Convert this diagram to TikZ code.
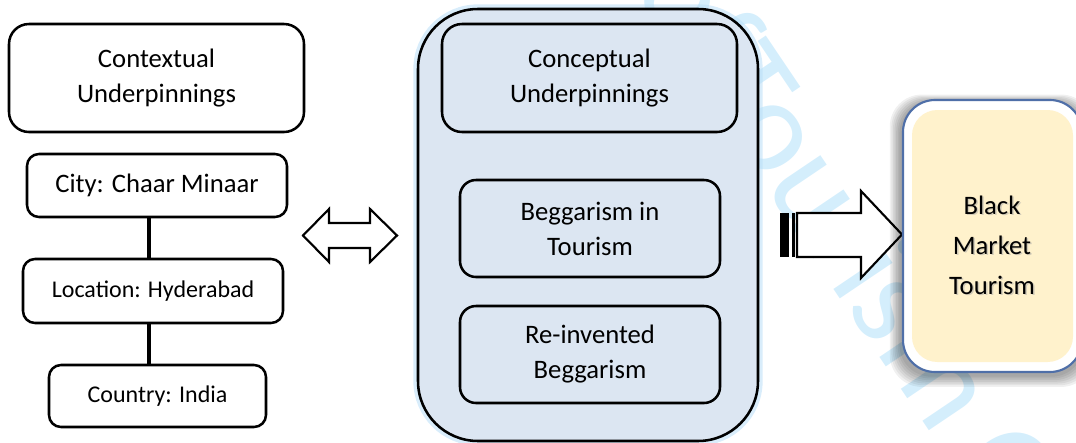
\documentclass[tikz,border=0pt]{standalone}
\usepackage{fontspec}
\setmainfont{Carlito}
\definecolor{cfill}{RGB}{220,230,242}
\definecolor{yfill}{RGB}{255,242,204}
\definecolor{bmline}{RGB}{79,111,168}
\definecolor{wmblue}{RGB}{212,238,252}
\definecolor{glowblue}{RGB}{185,222,248}
\begin{document}
\begin{tikzpicture}[x=0.75pt,y=-0.75pt,
  box/.style={draw=black, line width=1.9pt, rounded corners=#1, inner sep=0pt, align=center},
  box/.default=9pt,
  sz/.style 2 args={minimum width=#1*0.75pt, minimum height=#2*0.75pt},
  big/.style={font=\fontsize{20}{26.25}\selectfont},
  small/.style={font=\fontsize{18}{22}\selectfont},
  wm/.style={font=\fontsize{100}{100}\selectfont, text=wmblue, inner sep=0pt},
  blockarrow/.style={draw=black, fill=white, line width=1.6pt, line join=miter}
]
\useasboundingbox (0,0) rectangle (1076,443);
\clip (0,0) rectangle (1076,443);

% watermark
\node[wm, anchor=base west, rotate=-56] (wmb) at (694,82) {Tourism Cities};
\node[wm, anchor=base east, rotate=-56] (wma) at (wmb.base west) {International Journal of\ };

% left column
\node[box=15pt, big, sz={295}{108}] (ctx) at (156.5,78) {Contextual\\Underpinnings};
\node[box, big, sz={260}{63}] (city) at (157,185.5) {City: Chaar Minaar};
\node[box, small, sz={260}{64}] (loc) at (153,291) {Location: Hyderabad};
\node[box, small, sz={217}{62}] (country) at (157.5,396) {Country: India};
\coordinate (conx) at (149,0);
\draw[line width=2.6pt] (city.south -| conx) -- (loc.north -| conx);
\draw[line width=2.6pt] (loc.south -| conx) -- (country.north -| conx);

% double arrow
\draw[blockarrow] (303,235.5) -- (329,209) -- (329,223) -- (370,223) -- (370,209)
  -- (397,235.5) -- (370,262) -- (370,248) -- (329,248) -- (329,262) -- cycle;

% central group
\draw[glowblue, line width=7pt, opacity=.55, rounded corners=45pt] (418,9) rectangle (758,441);
\node[box=45pt, fill=cfill, sz={340}{432}] (outer) at (588,225) {};
\node[box=15pt, big, fill=cfill, sz={295}{108}] (concept) at (589.5,78) {Conceptual\\Underpinnings};
\node[box=12pt, big, fill=cfill, sz={260}{97}] (begg) at (590,228.5) {Beggarism in\\Tourism};
\node[box=12pt, big, fill=cfill, sz={260}{97}] (reinv) at (590,354.5) {Re-invented\\Beggarism};

% striped arrow
\fill[black] (780,213) rectangle (789,257);
\fill[black] (791.5,213) rectangle (795,257);
\draw[blockarrow] (797,213) -- (861,213) -- (861,191) -- (902,234.5) -- (861,278)
  -- (861,257) -- (797,257) -- cycle;

% black market box with shadow
\foreach \i in {1,...,7} {
  \fill[black, opacity=.06, rounded corners=24pt]
    (903-\i*1.6-2,100-\i*1.2+3) rectangle (1082+\i*1.6,372+\i*1.7+3);
}
\node[draw=bmline, line width=1.6pt, fill=white, rounded corners=24pt, inner sep=0pt,
  sz={179}{272}] (bmouter) at (992.5,236) {};
\node[fill=yfill, rounded corners=19pt, inner sep=0pt, sz={161}{252}] (bminner) at (992.5,236) {};
\node[align=center, font=\fontsize{20}{30}\selectfont, text=black!35, opacity=.5]
  (bmshadow) at (993.5,246.5) {Black\\Market\\Tourism};
\node[align=center, font=\fontsize{20}{30}\selectfont] (bmtext) at (992,245) {Black\\Market\\Tourism};
\end{tikzpicture}
\end{document}
